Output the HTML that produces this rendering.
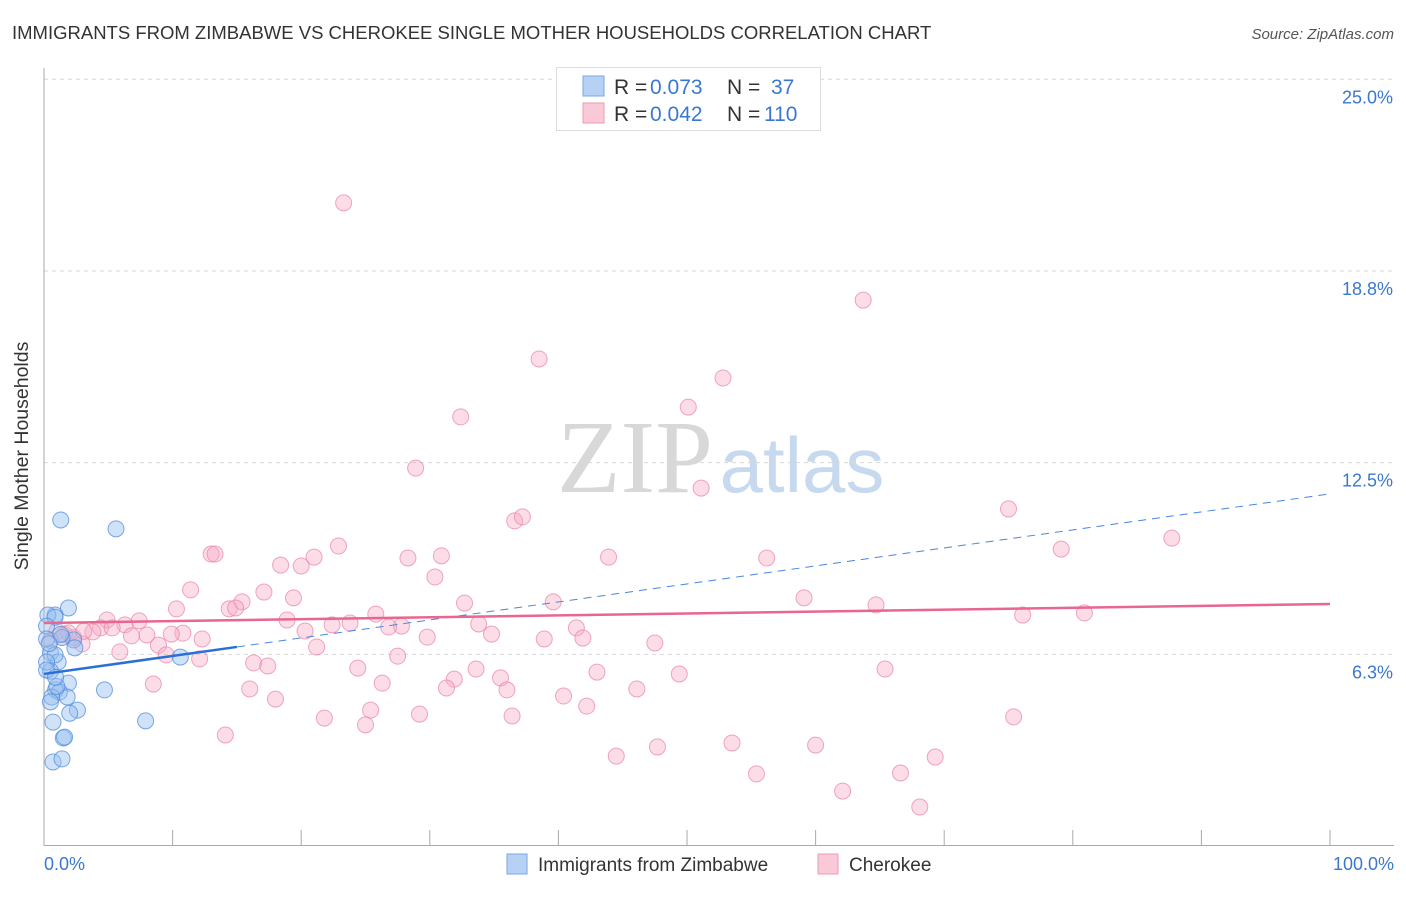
<!DOCTYPE html>
<html><head><meta charset="utf-8"><style>
body{margin:0;background:#fff;font-family:"Liberation Sans",sans-serif}
</style></head><body>
<svg width="1406" height="892" xmlns="http://www.w3.org/2000/svg" font-family="Liberation Sans, sans-serif">
<text x="12" y="39" font-size="18.5" fill="#333">IMMIGRANTS FROM ZIMBABWE VS CHEROKEE SINGLE MOTHER HOUSEHOLDS CORRELATION CHART</text>
<text x="1394" y="39" font-size="15" fill="#555" text-anchor="end" font-style="italic">Source: ZipAtlas.com</text>
<g>
<text x="635" y="492" font-size="104" fill="#d8d8d8" font-family="Liberation Serif, serif" text-anchor="middle">ZIP</text>
<text x="802" y="492" font-size="78" fill="#c7d9ef" text-anchor="middle">atlas</text>
</g>
<g id="grid"></g>
<g id="axes"></g>
<g id="pts"></g>
<g id="lines"></g>
<text x="28" y="456" font-size="19.5" fill="#333" text-anchor="middle" transform="rotate(-90 28 456)">Single Mother Households</text>
<text x="44" y="870" font-size="18" fill="#3a78d0">0.0%</text>
<text x="1394" y="870" font-size="18" fill="#3a78d0" text-anchor="end">100.0%</text>
<g>
<rect x="556.500" y="67.500" width="264" height="63" fill="#fff" stroke="#ddd"/>
<rect x="583" y="76" width="21" height="20" fill="#b7d1f5" stroke="#7aa6e4"/>
<rect x="583" y="103" width="21" height="20" fill="#fac9d7" stroke="#ee9ab3"/>
<text x="614" y="94" font-size="21" fill="#333">R = </text><text x="650" y="94" font-size="21" fill="#3a78d0">0.073</text>
<text x="727" y="94" font-size="21" fill="#333">N = </text><text x="771" y="94" font-size="21" fill="#3a78d0">37</text>
<text x="614" y="121" font-size="21" fill="#333">R = </text><text x="650" y="121" font-size="21" fill="#3a78d0">0.042</text>
<text x="727" y="121" font-size="21" fill="#333">N = </text><text x="764" y="121" font-size="21" fill="#3a78d0">110</text>
</g>
<g>
<rect x="507" y="854" width="20" height="20" fill="#b7d1f5" stroke="#7aa6e4"/>
<text x="538" y="871" font-size="19" fill="#333">Immigrants from Zimbabwe</text>
<rect x="818" y="854" width="20" height="20" fill="#fac9d7" stroke="#ee9ab3"/>
<text x="849" y="871" font-size="19" fill="#333">Cherokee</text>
</g>
</svg>
<script>
const yTicks=[25,18.75,12.5,6.25];
const yTickLabels=["25.0%","18.8%","12.5%","6.3%"];
const xTicks=[0,10,20,30,40,50,60,70,80,90,100];
const blueX=[1.3,5.6,1.9,0.86,0.3,2.3,2.4,1.4,10.6,0.5,1.1,0.5,1.9,4.7,0.9,1.2,0.6,1.8,2.6,2.0,0.7,7.9,1.5,0.7,1.4,0.86,0.2,0.2,0.86,0.2,0.2,1.0,0.5,1.6,1.3,0.4,0.9];
const blueY=[10.63,10.34,7.76,7.53,7.53,6.72,6.46,6.8,6.16,6.3,6.0,5.7,5.31,5.09,5.09,5.02,4.86,4.86,4.43,4.33,4.04,4.08,3.52,2.74,2.84,7.46,7.17,6.75,6.23,6.0,5.74,5.2,4.7,3.55,6.9,6.6,5.5];
const pinkX=[23.3,63.7,38.5,52.8,50.1,32.4,28.9,51.1,36.6,37.2,75.0,87.7,79.1,22.9,13.0,13.3,21.0,28.3,30.9,43.9,56.2,18.4,20.0,30.4,11.4,17.1,19.4,15.4,39.6,59.1,32.7,64.7,10.3,14.4,14.9,25.8,80.9,76.1,4.9,7.4,6.3,4.4,5.3,3.8,18.9,23.8,22.4,27.8,26.8,33.8,41.4,20.3,10.8,9.9,8.0,6.8,34.8,29.8,41.9,38.9,12.3,8.9,47.5,2.96,21.2,5.9,9.5,12.1,27.5,16.3,17.4,24.4,33.6,43.0,65.4,49.4,35.5,31.9,8.5,26.3,31.3,36.0,16.0,46.1,18.0,40.4,42.2,25.4,29.2,36.4,21.8,25.0,75.4,14.1,53.5,47.7,60.0,44.5,69.3,55.4,66.6,62.1,68.1,48.1,1.0,1.6,2.3,3.1,0.5,1.9];
const pinkY=[20.97,17.8,15.88,15.26,14.31,13.99,12.32,11.67,10.6,10.73,10.99,10.04,9.68,9.78,9.52,9.52,9.42,9.39,9.46,9.42,9.39,9.16,9.13,8.77,8.35,8.28,8.09,7.96,7.96,8.09,7.92,7.86,7.73,7.73,7.76,7.56,7.6,7.53,7.37,7.34,7.21,7.11,7.11,6.98,7.37,7.27,7.21,7.17,7.14,7.24,7.11,7.01,6.94,6.91,6.88,6.85,6.91,6.81,6.78,6.75,6.75,6.55,6.62,6.59,6.49,6.33,6.23,6.1,6.19,5.97,5.87,5.8,5.77,5.67,5.77,5.61,5.48,5.44,5.28,5.31,5.15,5.09,5.12,5.12,4.79,4.89,4.56,4.43,4.3,4.24,4.17,3.95,4.21,3.62,3.36,3.23,3.29,2.93,2.9,2.35,2.38,1.79,1.27,25.04,7.0,6.9,6.8,7.0,6.7,6.95];
const blueTrend=[5.61,11.48];
const pinkTrend=[7.27,7.89];
const X0=44,X1=1330,Y0=846,Yk=30.67;
const sx=v=>X0+(X1-X0)*v/100, sy=v=>Y0-Yk*v;
const NS="http://www.w3.org/2000/svg";
function mk(t,a,p){const e=document.createElementNS(NS,t);for(const k in a)e.setAttribute(k,a[k]);p.appendChild(e);return e;}
const grid=document.getElementById('grid'),axes=document.getElementById('axes'),pts=document.getElementById('pts'),lines=document.getElementById('lines');
yTicks.forEach((t,i)=>{
 const l=mk('line',{x1:44,x2:1394,y1:sy(t),y2:sy(t),stroke:'#d8d8d8','stroke-dasharray':'4,4'},grid);
 
 
 const tx=mk('text',{x:1393,y:sy(t)+24,'font-size':18,fill:'#3a78d0','text-anchor':'end'},grid);
 tx.textContent=yTickLabels[i];
 
 
});
const ax=mk('line',{x1:44,x2:44,y1:68,y2:846,stroke:'#aaa'},axes);


const bx=mk('line',{x1:44,x2:1394,y1:845.5,y2:845.5,stroke:'#aaa'},axes);


xTicks.forEach(t=>{
 const l=mk('line',{x1:sx(t),x2:sx(t),y1:830,y2:846,stroke:'#aaa'},axes);
 
 
});
pinkX.forEach((x,i)=>{
 const c=mk('circle',{cx:sx(x),cy:sy(pinkY[i]),r:8,fill:'rgba(248,170,195,0.4)',stroke:'rgba(232,130,165,0.7)','stroke-width':1},pts);
 
 
});
blueX.forEach((x,i)=>{
 const c=mk('circle',{cx:sx(x),cy:sy(blueY[i]),r:8,fill:'rgba(150,190,240,0.45)',stroke:'rgba(80,140,220,0.75)','stroke-width':1},pts);
 
 
});
const bAt=x=>blueTrend[0]+(blueTrend[1]-blueTrend[0])*x/100;
const bs=mk('line',{x1:sx(0),y1:sy(bAt(0)),x2:sx(15),y2:sy(bAt(15)),stroke:'#2a6fd6','stroke-width':2.5},lines);


const bd=mk('line',{x1:sx(15),y1:sy(bAt(15)),x2:sx(100),y2:sy(bAt(100)),stroke:'#4a86dc','stroke-width':1,'stroke-dasharray':'8,6'},lines);


const pl=mk('line',{x1:sx(0),y1:sy(pinkTrend[0]),x2:sx(100),y2:sy(pinkTrend[1]),stroke:'#e8668f','stroke-width':2.5},lines);


</script>
</body></html>
